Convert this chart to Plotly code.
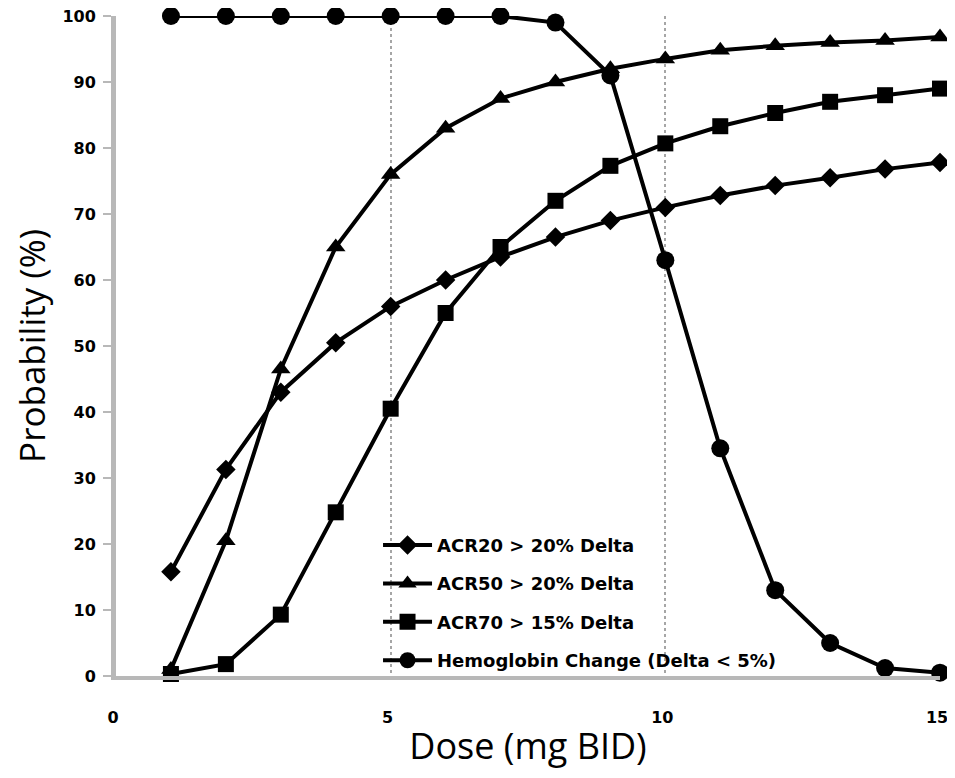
import plotly.graph_objects as go

dose = [1, 2, 3, 4, 5, 6, 7, 8, 9, 10, 11, 12, 13, 14, 15]
acr20 = [15.8, 31.3, 43.0, 50.5, 56.0, 60.0, 63.5, 66.5, 69.0, 71.0, 72.8, 74.3, 75.5, 76.8, 77.8]
acr50 = [1.0, 20.5, 46.5, 65.0, 76.0, 83.0, 87.5, 90.0, 92.0, 93.5, 94.8, 95.5, 96.0, 96.3, 96.8]
acr70 = [0.3, 1.8, 9.3, 24.8, 40.5, 55.0, 65.0, 72.0, 77.3, 80.7, 83.3, 85.3, 87.0, 88.0, 89.0]
hemo = [100, 100, 100, 100, 100, 100, 100, 99.0, 91.0, 63.0, 34.5, 13.0, 5.0, 1.2, 0.5]

names = ["ACR20 > 20% Delta", "ACR50 > 20% Delta", "ACR70 > 15% Delta", "Hemoglobin Change (Delta < 5%)"]
series = [acr20, acr50, acr70, hemo]
symbols = ["diamond", "triangle-up", "square", "circle"]
sizes = [15, 17, 16, 18]

fig = go.Figure()
for i, (nm, ys, sym, sz) in enumerate(zip(names, series, symbols, sizes)):
    fig.add_trace(go.Scatter(
        x=dose, y=ys, name=nm, mode="lines+markers",
        line=dict(color="black", width=4),
        marker=dict(symbol=sym, size=sz, color="black"),
        legendgroup=str(i), cliponaxis=False,
    ))

fig.update_layout(
    width=947, height=762,
    paper_bgcolor="white", plot_bgcolor="white",
    margin=dict(l=108, r=15, t=8, b=94, autoexpand=False),
    showlegend=True,
    legend=dict(
        x=0.318, y=0.226, xanchor="left", yanchor="top",
        bgcolor="rgba(0,0,0,0)", traceorder="grouped", tracegroupgap=12,
        font=dict(family="DejaVu Sans", size=18, color="black", weight="bold"),
        itemwidth=49,
    ),
    xaxis=dict(
        range=[0, 15], tickvals=[0, 5, 10, 15], ticktext=["0", "5", "10", "15"],
        showgrid=True, gridcolor="#a6a6a6", griddash="dot", gridwidth=1.5,
        zeroline=False, showline=True, linecolor="#b8b8b8", linewidth=4,
        ticks="", ticklen=0, automargin=False, ticklabeloverflow="allow",
        ticklabelstandoff=24, ticklabelshift=-3,
        tickfont=dict(family="DejaVu Sans", size=16, color="black", weight="bold"),
        title=dict(text="Dose (mg BID)", font=dict(family="Open Sans", size=36, color="black"), standoff=32),
    ),
    yaxis=dict(
        range=[0, 100], tickvals=list(range(0, 101, 10)),
        showgrid=False, zeroline=False, showline=True, linecolor="#b8b8b8", linewidth=5,
        ticks="outside", ticklen=8, tickcolor="#b8b8b8", tickwidth=1.5, automargin=False,
        ticklabeloverflow="allow", ticklabelstandoff=4,
        tickfont=dict(family="DejaVu Sans", size=16, color="black", weight="bold"),
        title=dict(text="Probability (%)", font=dict(family="Open Sans", size=35, color="black"), standoff=28),
    ),
)

fig.write_html("out.html")
